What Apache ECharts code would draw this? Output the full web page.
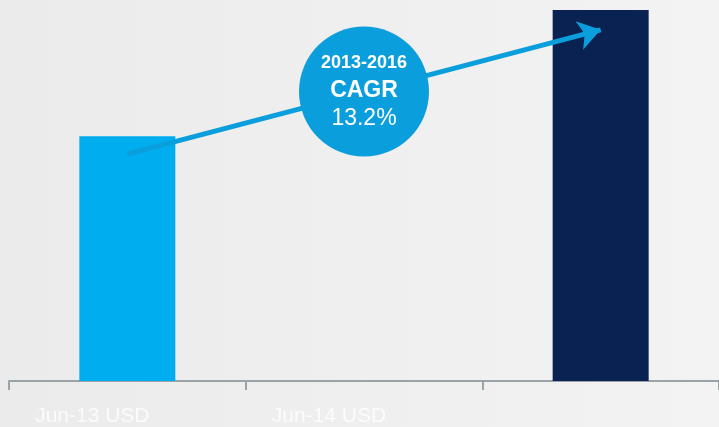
<!DOCTYPE html>
<html>
<head>
<meta charset="utf-8">
<script src="https://cdn.jsdelivr.net/npm/echarts@6/dist/echarts.min.js"></script>
<style>
  html, body { margin: 0; padding: 0; }
  #chart { width: 719px; height: 427px; }
</style>
</head>
<body>
<div id="chart"></div>
<script>
// categories and values (Jun-13 indexed to 100)
const categories = ['Jun-13 USD', 'Jun-14 USD', '']
const values = [100, null, 151.6]
const barColors = ['#00aeef', null, '#0a2252']
// CAGR arrow runs from bar 1 to bar 3
const arrowFrom = [0, 92.7]
const arrowTo = [2, 143.5]
const cagrPoint = [1, 118.3]
const cagrPeriod = '2013-2016'
const cagrValue = '13.2%'

const chart = echarts.init(document.getElementById('chart'))
chart.setOption({
  animation: false,
  backgroundColor: {
    type: 'linear', x: 0, y: 0, x2: 1, y2: 0,
    colorStops: [{ offset: 0, color: '#ebebeb' }, { offset: 1, color: '#f3f3f3' }]
  },
  grid: { left: 9, top: 0, width: 716, height: 383 },
  xAxis: {
    type: 'category',
    data: categories,
    axisLine: { lineStyle: { color: '#9aa4a8', width: 2 } },
    axisTick: { show: true, interval: 0, length: 9, lineStyle: { color: '#9aa4a8', width: 2 } },
    axisLabel: {
      interval: 0,
      color: 'rgba(255,255,255,0.8)',
      fontSize: 21,
      fontFamily: 'Liberation Sans',
      margin: 25,
      padding: [0, 70, 0, 0]
    }
  },
  yAxis: { type: 'value', min: 0, max: 155.7, show: false },
  series: [
    {
      type: 'bar',
      barWidth: 96,
      data: values.map((v, i) => v == null ? '-' : { value: v, itemStyle: { color: barColors[i] } }),
      markLine: {
        silent: true,
        symbol: ['none', 'arrow'],
        symbolSize: [22, 22],
        label: { show: false },
        lineStyle: { color: '#0a9fdc', width: 5, type: 'solid' },
        data: [[{ coord: arrowFrom }, { coord: arrowTo }]]
      }
    },
    {
      type: 'scatter',
      symbolSize: 130,
      itemStyle: { color: '#0a9fdc', opacity: 1 },
      data: [cagrPoint],
      z: 5,
      label: {
        show: true,
        position: 'inside',
        formatter: '{a|' + cagrPeriod + '}\n{b|CAGR}\n{c|' + cagrValue + '}',
        rich: {
          a: { color: '#fff', fontSize: 18, fontWeight: 'bold', fontFamily: 'Liberation Sans', lineHeight: 27 },
          b: { color: '#fff', fontSize: 23, fontWeight: 'bold', fontFamily: 'Liberation Sans', lineHeight: 28 },
          c: { color: '#fff', fontSize: 23, fontFamily: 'Liberation Sans', lineHeight: 28 }
        }
      }
    }
  ]
})
</script>
</body>
</html>
